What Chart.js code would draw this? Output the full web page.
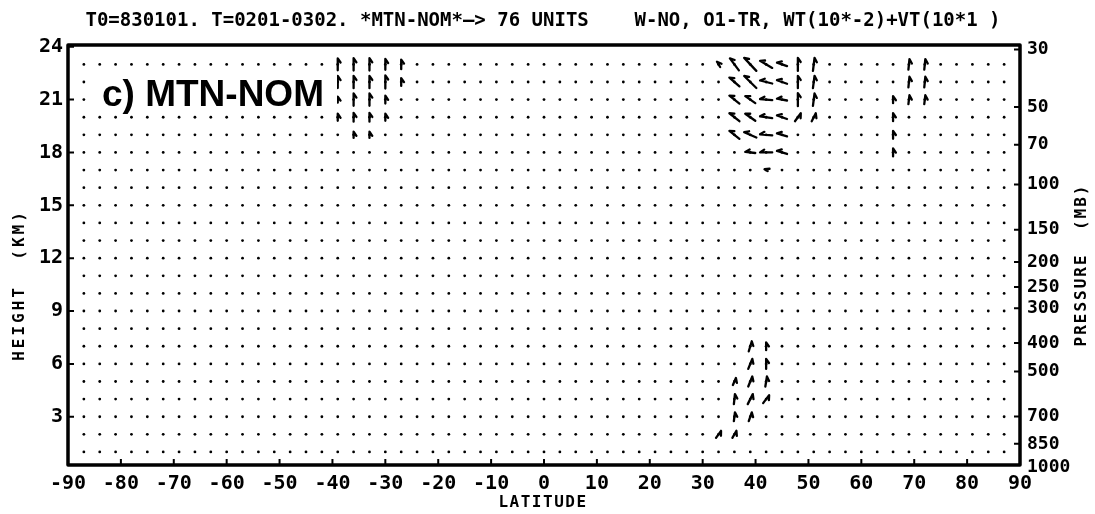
<!DOCTYPE html>
<html>
<head>
<meta charset="utf-8">
<script src="https://cdn.jsdelivr.net/npm/chart.js@4.4.1/dist/chart.umd.min.js"></script>
<style>
  html, body { margin: 0; padding: 0; background: #fff; }
</style>
</head>
<body>
<canvas id="chart" width="1095" height="514"></canvas>
<script>
// grid points of the field (latitude, height km)
var lats = [-87,-84,-81,-78,-75,-72,-69,-66,-63,-60,-57,-54,-51,-48,-45,-42,-39,-36,-33,-30,
            -27,-24,-21,-18,-15,-12,-9,-6,-3,0,3,6,9,12,15,18,21,24,27,30,
            33,36,39,42,45,48,51,54,57,60,63,66,69,72,75,78,81,84,87];
var heights = [1,2,3,4,5,6,7,8,9,10,11,12,13,14,15,16,17,18,19,20,21,22,23];

// axis ticks
var latTicks = [-90,-80,-70,-60,-50,-40,-30,-20,-10,0,10,20,30,40,50,60,70,80,90];
var heightTicks = [3,6,9,12,15,18,21,24];
var pressLabels = [30,50,70,100,150,200,250,300,400,500,700,850,1000];
var pressHeights = [23.85,20.58,18.44,16.18,13.61,11.78,10.36,9.16,7.18,5.57,3.01,1.46,0.11];

// arrows: latitude, height, u (deg), w (km)
var arrows = [
  // southern hemisphere, upper levels
  [-39,23,0,0.68],[-36,23,0,0.7],[-33,23,0,0.7],[-30,23,0,0.62],[-27,23,0,0.55],
  [-39,22,0,0.68],[-36,22,0,0.7],[-33,22,0,0.7],[-30,22,0,0.75],[-27,22,0,0.45],
  [-39,21,0,0.35],[-36,21,0,0.7],[-33,21,0,0.7],[-30,21,0,0.45],
  [-39,20,0,0.4],[-36,20,0,0.5],[-33,20,0,0.5],[-30,20,0,0.4],
  [-36,19,0,0.35],[-33,19,0,0.35],
  // northern hemisphere, upper levels
  [33,23,-0.6,0.3],[36,23,-1.7,0.68],[39,23,-2.3,0.74],[42,23,-2.3,0.4],[45,23,-1.9,0.2],[48,23,0,0.74],[51,23,0.3,0.74],
  [36,22,-1.9,0.5],[39,22,-2.3,0.68],[42,22,-2.3,0.17],[45,22,-1.9,0.2],[48,22,0,0.7],[51,22,0.3,0.7],
  [36,21,-1.9,0.45],[39,21,-1.9,0.4],[42,21,-2.3,0.06],[45,21,-1.9,0.1],[48,21,0,0.74],[51,21,0.3,0.7],
  [36,20,-1.9,0.45],[39,20,-1.9,0.4],[42,20,-2.3,0.1],[45,20,-1.9,0.2],[48,20,1.1,0.45],[51,20,0.76,0.45],
  [36,19,-1.9,0.45],[39,19,-2.3,0.3],[42,19,-2.3,0.06],[45,19,-1.9,0.17],
  [39,18,-1.9,0.06],[42,18,-2.3,0],[45,18,-1.9,0.17],
  [42,17,-0.6,0.1],
  [69,23,0.2,0.6],[72,23,0.2,0.6],[69,22,0.2,0.6],[72,22,0.2,0.6],[69,21,0.2,0.5],[72,21,0.2,0.5],
  [66,21,0,0.4],[66,20,0,0.45],[66,19,0,0.45],[66,18,0,0.45],
  // northern hemisphere, lower levels
  [39,7,0.57,0.57],[42,7,0,0.45],
  [39,6,0.76,0.57],[42,6,0,0.57],
  [36,5,0.57,0.4],[39,5,0.76,0.57],[42,5,0.3,0.57],
  [36,4,0.2,0.57],[39,4,0.95,0.57],[42,4,1.13,0.45],
  [36,3,0.2,0.5],[39,3,0.57,0.5],
  [33,2,0.95,0.4],[36,2,0.76,0.4]
];

var titleText = 'T0=830101. T=0201-0302. *MTN-NOM*\u2014> 76 UNITS    W-NO, O1-TR, WT(10*-2)+VT(10*1 )';
var mono = '"DejaVu Sans Mono", monospace';

var points = [];
for (var j = 0; j < heights.length; j++) {
  for (var i = 0; i < lats.length; i++) {
    points.push({x: lats[i], y: heights[j]});
  }
}

function drawText(ctx, txt, x, y, rot, font, spacing) {
  ctx.save();
  ctx.translate(x, y);
  ctx.rotate(rot);
  ctx.font = font;
  ctx.letterSpacing = spacing;
  ctx.textAlign = 'center';
  ctx.textBaseline = 'middle';
  ctx.fillText(txt, 0, 0);
  ctx.restore();
}

var fieldPlugin = {
  id: 'field',
  afterDatasetsDraw: function(chart) {
    var ctx = chart.ctx, xs = chart.scales.x, ys = chart.scales.y, ca = chart.chartArea;
    ctx.save();
    // arrows
    ctx.strokeStyle = '#000';
    ctx.lineWidth = 2.3;
    ctx.lineCap = 'round';
    ctx.lineJoin = 'round';
    arrows.forEach(function(a) {
      var x0 = xs.getPixelForValue(a[0] - a[2] / 2), y0 = ys.getPixelForValue(a[1] - a[3] / 2);
      var x1 = xs.getPixelForValue(a[0] + a[2] / 2), y1 = ys.getPixelForValue(a[1] + a[3] / 2);
      var ang = Math.atan2(y1 - y0, x1 - x0);
      var b = ang + Math.PI - 0.6;
      ctx.beginPath();
      ctx.moveTo(x0, y0);
      ctx.lineTo(x1, y1);
      ctx.lineTo(x1 + 5 * Math.cos(b), y1 + 5 * Math.sin(b));
      ctx.stroke();
    });
    // panel label
    ctx.fillStyle = '#fff';
    ctx.fillRect(97, 72, 240, 40);
    ctx.fillStyle = '#000';
    ctx.font = 'bold 37px "Liberation Sans", Arial, sans-serif';
    ctx.textBaseline = 'alphabetic';
    ctx.textAlign = 'left';
    ctx.fillText('c) MTN-NOM', 102, 106);
    // frame
    ctx.lineWidth = 3.5;
    ctx.lineCap = 'butt';
    ctx.strokeRect(ca.left, ca.top, ca.right - ca.left, ca.bottom - ca.top);
    // inward ticks
    ctx.lineWidth = 2;
    ctx.beginPath();
    latTicks.forEach(function(v) {
      var px = xs.getPixelForValue(v);
      ctx.moveTo(px, ca.bottom); ctx.lineTo(px, ca.bottom - 6);
    });
    heightTicks.forEach(function(v) {
      var py = ys.getPixelForValue(v);
      ctx.moveTo(ca.left, py); ctx.lineTo(ca.left + 6, py);
    });
    pressHeights.forEach(function(v) {
      var py = ys.getPixelForValue(v);
      if (py > ca.bottom) return;
      ctx.moveTo(ca.right, py); ctx.lineTo(ca.right - 6, py);
    });
    ctx.stroke();
    // header and axis titles
    drawText(ctx, titleText, 543, 21, 0, 'bold 19px ' + mono, '0px');
    drawText(ctx, 'LATITUDE', 543, 503, 0, 'bold 16px ' + mono, '1.5px');
    drawText(ctx, 'HEIGHT  (KM)', 20, 285, -Math.PI / 2, 'bold 16px ' + mono, '3px');
    drawText(ctx, 'PRESSURE  (MB)', 1082, 265, -Math.PI / 2, 'bold 16px ' + mono, '2px');
    ctx.restore();
  }
};

new Chart(document.getElementById('chart'), {
  type: 'scatter',
  data: {
    datasets: [{
      data: points,
      pointRadius: 1.4,
      pointHoverRadius: 1.4,
      borderWidth: 0,
      backgroundColor: '#000'
    }]
  },
  options: {
    responsive: false,
    animation: false,
    devicePixelRatio: 1,
    layout: { padding: { top: 45, left: 0, right: 0, bottom: 0 } },
    plugins: { legend: { display: false }, tooltip: { enabled: false } },
    scales: {
      x: {
        type: 'linear', position: 'bottom', min: -90, max: 90,
        afterBuildTicks: function(s) { s.ticks = latTicks.map(function(v) { return {value: v}; }); },
        afterFit: function(s) { s.height = 49; },
        grid: { display: false, drawTicks: false },
        border: { display: false },
        ticks: { color: '#000', padding: 7, maxRotation: 0, autoSkip: false, font: { family: mono, size: 20, weight: 'bold' } }
      },
      y: {
        type: 'linear', position: 'left', min: 0.26, max: 24.1,
        afterBuildTicks: function(s) { s.ticks = heightTicks.map(function(v) { return {value: v}; }); },
        afterFit: function(s) { s.width = 68; },
        grid: { display: false, drawTicks: false },
        border: { display: false },
        ticks: { color: '#000', padding: 5, autoSkip: false, font: { family: mono, size: 20, weight: 'bold' } }
      },
      y2: {
        type: 'linear', position: 'right', min: 0.26, max: 24.1,
        afterBuildTicks: function(s) { s.ticks = pressHeights.map(function(v) { return {value: v}; }); },
        afterFit: function(s) { s.width = 75; },
        grid: { display: false, drawTicks: false },
        border: { display: false },
        ticks: {
          color: '#000', padding: 7, autoSkip: false, font: { family: mono, size: 18, weight: 'bold' },
          callback: function(v) { return pressLabels[pressHeights.indexOf(v)]; }
        }
      }
    }
  },
  plugins: [fieldPlugin]
});
</script>
</body>
</html>
